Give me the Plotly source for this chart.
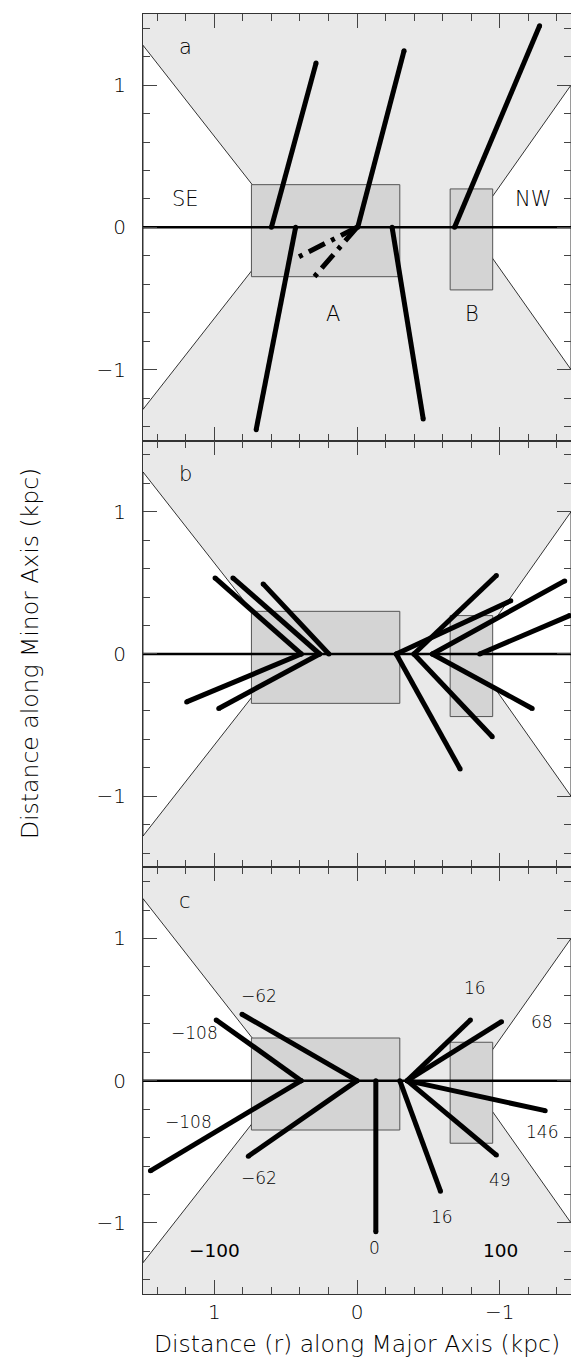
import plotly.graph_objects as go

# ---------------- data ----------------
X_RANGE = [1.5, -1.5]
Y_RANGE = [-1.5, 1.5]

# white (outside-cone) wedges
CONE_L_X = [1.5, 0.5, 1.5]
CONE_L_Y = [1.28, 0.0, -1.28]
CONE_R_X = [-1.5, -0.797, -1.5]
CONE_R_Y = [1.0, 0.0, -1.0]

# boxes  (x0, x1, y0, y1)
RECT_A = [0.74, -0.30, -0.347, 0.30]
RECT_B = [-0.653, -0.951, -0.44, 0.27]

# panel a: solid segments
A_X0 = [0.60, -0.005, -0.684, 0.43, -0.246]
A_Y0 = [0.0, 0.0, 0.0, 0.0, 0.0]
A_X1 = [0.287, -0.33, -1.28, 0.707, -0.464]
A_Y1 = [1.155, 1.242, 1.418, -1.423, -1.347]
# panel a: dash-dot segments
A_DD_X0 = [0.0, 0.0]
A_DD_Y0 = [0.0, 0.0]
A_DD_X1 = [0.443, 0.321]
A_DD_Y1 = [-0.225, -0.373]

# panel b
B_X0 = [0.391, 0.391, 0.262, 0.262, 0.197, -0.275, -0.275, -0.399, -0.399, -0.528, -0.528, -0.860]
B_Y0 = [0.0] * 12
B_X1 = [0.995, 1.194, 0.870, 0.969, 0.658, -1.078, -0.723, -0.977, -0.948, -1.456, -1.228, -1.49]
B_Y1 = [0.535, -0.337, 0.535, -0.383, 0.493, 0.374, -0.809, 0.552, -0.582, 0.514, -0.383, 0.27]

# panel c
C_X0 = [0.391, 0.391, 0.0, 0.0, -0.132, -0.30, -0.352, -0.352, -0.352, -0.352]
C_Y0 = [0.0] * 10
C_X1 = [0.987, 1.448, 0.806, 0.762, -0.132, -0.585, -0.795, -1.013, -1.319, -0.977]
C_Y1 = [0.427, -0.634, 0.467, -0.531, -1.063, -0.777, 0.427, 0.415, -0.211, -0.523]

C_LAB = ["\u2212108", "\u2212108", "\u221262", "\u221262", "0", "16", "16", "68", "146", "49"]
C_LAB_X = [1.142, 1.181, 0.684, 0.684, -0.122, -0.593, -0.826, -1.298, -1.298, -1.003]
C_LAB_Y = [0.333, -0.289, 0.592, -0.681, -1.176, -0.958, 0.650, 0.411, -0.364, -0.695]

C_BIG_LAB = ["\u2212100", "100"]
C_BIG_X = [1.0, -1.003]
C_BIG_Y = [-1.192, -1.192]

PANEL_LETTERS = ["a", "b", "c"]
PANEL_LET_X = 1.204
PANEL_LET_Y = 1.265

A_TXT = ["SE", "NW", "A", "B"]
A_TXT_X = [1.202, -1.236, 0.171, -0.803]
A_TXT_Y = [0.20, 0.20, -0.61, -0.61]

TICKS = [-1, 0, 1]

# ---------------- figure ----------------
FONT = "DejaVu Sans ExtraLight, DejaVu Sans"
WT = 200
BG = "#e9e9e9"
BOX = "#d4d4d4"
LW = 5

fig = go.Figure()


def segs(x0, y0, x1, y1):
    xs, ys = [], []
    for a, b, c, d in zip(x0, y0, x1, y1):
        xs += [a, c, None]
        ys += [b, d, None]
    return xs, ys


def fnt(size, color="black", weight=WT):
    return dict(family=FONT, size=size, color=color, weight=weight)


panels = [("x", "y"), ("x2", "y2"), ("x3", "y3")]
shapes = []
annotations = []

for i, (xr, yr) in enumerate(panels):
    for cx, cy in ((CONE_L_X, CONE_L_Y), (CONE_R_X, CONE_R_Y)):
        path = "M %g,%g L %g,%g L %g,%g Z" % (cx[0], cy[0], cx[1], cy[1], cx[2], cy[2])
        shapes.append(dict(type="path", path=path, xref=xr, yref=yr, layer="below",
                           fillcolor="white", line=dict(color="black", width=0.8)))
    for r in (RECT_A, RECT_B):
        shapes.append(dict(type="rect", x0=r[0], x1=r[1], y0=r[2], y1=r[3], xref=xr, yref=yr,
                           layer="below", fillcolor=BOX, line=dict(color="#555555", width=1)))
    shapes.append(dict(type="line", x0=X_RANGE[0], x1=X_RANGE[1], y0=0, y1=0, xref=xr, yref=yr,
                       layer="below", line=dict(color="black", width=2.5)))
    annotations.append(dict(x=PANEL_LET_X, y=PANEL_LET_Y, xref=xr, yref=yr, text=PANEL_LETTERS[i],
                            showarrow=False, font=fnt(21)))


def thick(xs, ys, xa, ya, dash=None):
    line = dict(color="black", width=LW)
    if dash:
        line["dash"] = dash
        mode = "lines"
    else:
        mode = "lines+markers"
    fig.add_trace(go.Scatter(x=xs, y=ys, xaxis=xa, yaxis=ya, mode=mode, line=line,
                             marker=dict(size=LW, color="black", line=dict(width=0)),
                             hoverinfo="skip", cliponaxis=True))


# panel a
xs, ys = segs(A_X0, A_Y0, A_X1, A_Y1)
thick(xs, ys, "x", "y")
xs, ys = segs(A_DD_X0, A_DD_Y0, A_DD_X1, A_DD_Y1)
thick(xs, ys, "x", "y", dash="18px,7px,4px,7px")
for t, x, y in zip(A_TXT, A_TXT_X, A_TXT_Y):
    annotations.append(dict(x=x, y=y, xref="x", yref="y", text=t, showarrow=False,
                            font=fnt(21)))

# panel b
xs, ys = segs(B_X0, B_Y0, B_X1, B_Y1)
thick(xs, ys, "x2", "y2")

# panel c
xs, ys = segs(C_X0, C_Y0, C_X1, C_Y1)
thick(xs, ys, "x3", "y3")
for t, x, y in zip(C_LAB, C_LAB_X, C_LAB_Y):
    annotations.append(dict(x=x, y=y, xref="x3", yref="y3", text=t, showarrow=False,
                            font=fnt(17)))
for t, x, y in zip(C_BIG_LAB, C_BIG_X, C_BIG_Y):
    annotations.append(dict(x=x, y=y, xref="x3", yref="y3", text=t, showarrow=False,
                            font=fnt(18.5, "black", 400)))

axis_common = dict(range=X_RANGE, showgrid=False, zeroline=False, showline=True,
                   linecolor="#333333", linewidth=1, mirror="ticks",
                   ticks="inside", ticklen=14, tickwidth=1, tickcolor="#444444",
                   tickvals=TICKS, ticktext=["\u22121" if v == -1 else str(v) for v in TICKS],
                   minor=dict(dtick=0.2, tick0=0, ticks="inside", ticklen=7, tickwidth=1,
                              tickcolor="#444444", showgrid=False),
                   tickfont=fnt(20))

yaxis_common = dict(axis_common)
yaxis_common["range"] = Y_RANGE

layout = dict(
    width=579, height=1357,
    margin=dict(l=135, r=16, t=6, b=71),
    paper_bgcolor="white", plot_bgcolor=BG,
    showlegend=False,
    shapes=shapes, annotations=annotations,
    font=dict(family=FONT, color="black"),
)

doms = [[2 / 3, 1], [1 / 3, 2 / 3], [0, 1 / 3]]
for i in range(3):
    sx = "" if i == 0 else str(i + 1)
    xa = dict(axis_common, anchor="y" + sx, domain=[0, 1])
    if i < 2:
        xa["showticklabels"] = False
        xa["matches"] = "x3"
    else:
        xa["ticklabelstandoff"] = 0
    ya = dict(yaxis_common, anchor="x" + sx, domain=doms[i], ticklabelstandoff=12)
    layout["xaxis" + sx] = xa
    layout["yaxis" + sx] = ya

fig.update_layout(**layout)
fig.add_annotation(x=0.5, y=0, xref="paper", yref="paper", yshift=-50,
                   text="Distance (r) along Major Axis (kpc)", showarrow=False,
                   xanchor="center", yanchor="middle", borderpad=0, font=fnt(23.5))
fig.add_annotation(x=0, y=0.5, xref="paper", yref="paper", xshift=-113,
                   text="Distance along Minor Axis (kpc)", textangle=-90, showarrow=False,
                   xanchor="center", yanchor="middle", borderpad=0, font=fnt(23.5))

fig.write_html("out.html")
